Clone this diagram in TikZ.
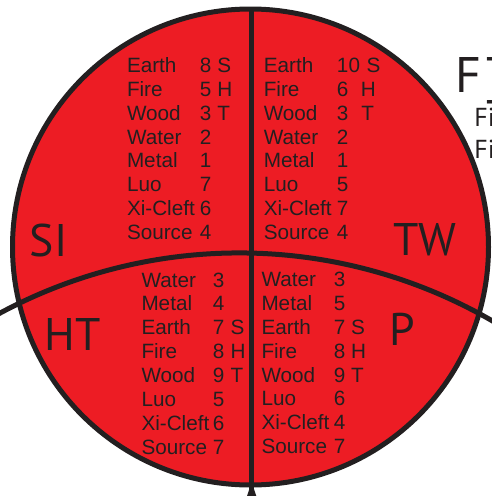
\documentclass[tikz,border=0pt]{standalone}
\usepackage{fontspec}
\setmainfont{Liberation Sans}
\newfontfamily\labfont{PT Sans}
\definecolor{fillred}{HTML}{ED1C24}
\definecolor{ink}{HTML}{231F20}
\begin{document}
\begin{tikzpicture}[x=1pt,y=-1pt,
  rowtxt/.style={anchor=base west, inner sep=0pt, outer sep=0pt, text=ink, font=\fontsize{20.7}{24}\selectfont},
  biglab/.style={anchor=base west, inner sep=0pt, outer sep=0pt, text=ink, font=\labfont\fontsize{45.7}{50}\selectfont},
  titletxt/.style={anchor=base west, inner sep=0pt, outer sep=0pt, text=ink, font=\labfont\fontsize{50}{55}\selectfont},
  subtxt/.style={anchor=base west, inner sep=0pt, outer sep=0pt, text=ink, font=\labfont\fontsize{26}{30}\selectfont},
  outline/.style={draw=ink, line width=5pt},
  divider/.style={draw=ink, line width=4.6pt},
  arcline/.style={draw=ink, line width=5pt},
]
\useasboundingbox (0,0) rectangle (491,496);
% circle
\coordinate (O) at (250.5,247);
\fill[fillred] (O) circle[radius=238];
\draw[outline] (O) circle[radius=238];
% vertical divider
\coordinate (vtop) at (251.7,10);
\coordinate (vbot) at (251.7,496);
\draw[divider] (vtop) -- (vbot);
\fill[ink] (249.4,489) -- (254,489) -- (256.5,496.5) -- (246.9,496.5) -- cycle;
% curved divider
\coordinate (arcL) at ({239.2+505.5*cos(-118.89)},{758.4+505.5*sin(-118.89)});
\draw[arcline] (arcL) arc[start angle=-118.89, end angle=-59.47, radius=505.5];
% top-left block
\foreach [count=\i] \n/\v/\l/\w in {Earth/8/S/17.5, Fire/5/H/17.5, Wood/3/T/17.5, Water/2/{}/17.5, Metal/1/{}/17.5, Luo/7/{}/17.5, Xi-Cleft/6/{}/17.5, Source/4/{}/17.5}
  \node[rowtxt] (tl\i) at (127,{72.5+(\i-1)*23.86}) {\makebox[72.8pt][l]{\n}\makebox[\w pt][l]{\v}\l};
% top-right block
\foreach [count=\i] \n/\v/\l/\w in {Earth/10/S/29.7, Fire/6/H/24, Wood/3/T/24.3, Water/2/{}/17.5, Metal/1/{}/17.5, Luo/5/{}/17.5, Xi-Cleft/7/{}/17.5, Source/4/{}/17.5}
  \node[rowtxt] (tr\i) at (263.8,{72.5+(\i-1)*23.86}) {\makebox[73.2pt][l]{\n}\makebox[\w pt][l]{\v}\l};
% bottom-left block
\foreach [count=\i] \n/\v/\l/\w in {Water/3/{}/17.7, Metal/4/{}/17.7, Earth/7/S/17.7, Fire/8/H/17.7, Wood/9/T/17.7, Luo/5/{}/17.7, Xi-Cleft/6/{}/17.7, Source/7/{}/17.7}
  \node[rowtxt] (bl\i) at (141.5,{287+(\i-1)*23.86}) {\makebox[71.5pt][l]{\n}\makebox[\w pt][l]{\v}\l};
% bottom-right block
\foreach [count=\i] \n/\v/\l/\w in {Water/3/{}/17.2, Metal/5/{}/17.2, Earth/7/S/17.2, Fire/8/H/17.2, Wood/9/T/17.2, Luo/6/{}/17.2, Xi-Cleft/4/{}/17.2, Source/7/{}/17.2}
  \node[rowtxt] (br\i) at (261.5,{286.6+(\i-1)*23.86}) {\makebox[72.5pt][l]{\n}\makebox[\w pt][l]{\v}\l};
% quadrant labels
\node[biglab] (si) at (30,256) {SI};
\node[biglab] (tw) at (393.5,255) {TW};
\node[biglab] (ht) at (44.5,350) {HT};
\node[biglab] (p) at (389.5,345) {P};
% cut-off title at right
\node[titletxt] (ttlF) at (455.5,92) {F};
\node[titletxt] (ttlB) at (485.5,92) {]};
\node[subtxt] (fi1) at (474.4,126) {Fi};
\node[subtxt] (fi2) at (474.4,158.3) {Fi};
\end{tikzpicture}
\end{document}
